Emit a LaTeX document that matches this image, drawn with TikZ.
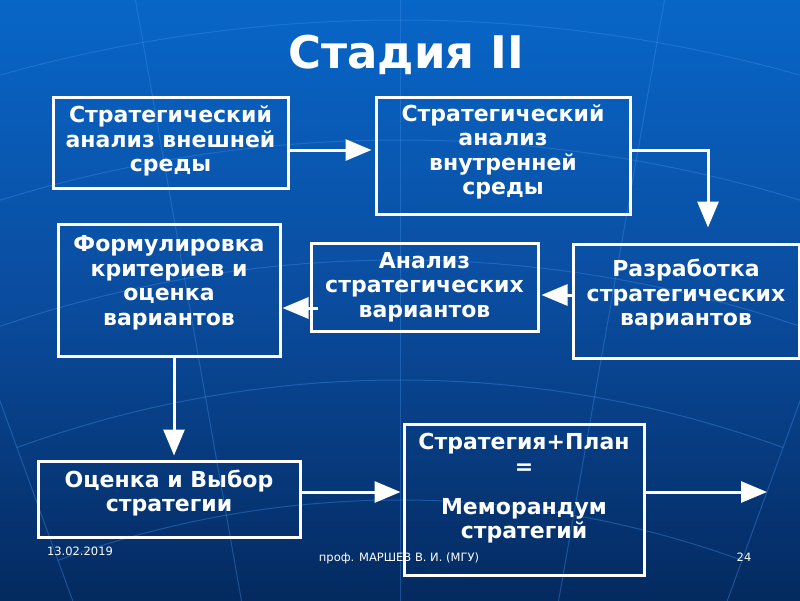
\documentclass[tikz,border=0pt]{standalone}
\usepackage{fontspec}
\setmainfont{DejaVu Sans}
\usetikzlibrary{arrows.meta}
\definecolor{bgtop}{HTML}{0866C8}
\definecolor{bgmid}{HTML}{0A4C9E}
\definecolor{bgbot}{HTML}{042A60}
\definecolor{gridc}{HTML}{3C8CE6}
\tikzset{
  box/.style={draw=white, line width=3pt, inner sep=0pt},
  txt/.style={text=white, font=\bfseries\fontsize{22}{24.5}\selectfont, align=center, inner sep=0pt},
  foot/.style={text=white, font=\fontsize{11.5}{13}\selectfont, inner sep=0pt},
  conn/.style={draw=white, line width=3pt, -{Triangle[length=26pt,width=21pt,fill=white]}},
  gridline/.style={draw=gridc, line width=1pt, opacity=0.4}
}
\begin{document}
\begin{tikzpicture}[x=1pt,y=-1pt]
\useasboundingbox (0,0) rectangle (800,600);
\shade[top color=bgtop, bottom color=bgbot, middle color=bgmid] (0,0) rectangle (800,600);
% globe grid
\begin{scope}
\clip (0,0) rectangle (800,600);
\foreach \a in {-60,-50,...,60} {
  \draw[gridline] (400,1500) -- ++({90+\a}:-1700);
}
\foreach \r in {1000,1120,1240,1360,1480} {
  \draw[gridline] (400,1500) ++(110:-\r) arc[start angle=110, end angle=70, radius=-\r];
}
\end{scope}
% title
\node[text=white, font=\bfseries\fontsize{45}{48}\selectfont, inner sep=0pt] (title) at (406,55) {Стадия II};
% boxes
\node[box, minimum width=235pt, minimum height=91pt] (b1) at (170.5,142.5) {};
\node[box, minimum width=254pt, minimum height=117pt] (b2) at (503,155.5) {};
\node[box, minimum width=222pt, minimum height=132pt] (b3) at (169,290) {};
\node[box, minimum width=227pt, minimum height=88pt] (b4) at (424.5,287) {};
\node[box, minimum width=226pt, minimum height=114pt] (b5) at (686,301) {};
\node[box, minimum width=262pt, minimum height=76pt] (b6) at (169,499) {};
\node[box, minimum width=240pt, minimum height=151pt] (b7) at (524,499.5) {};
% texts
\node[txt] (t1) at (170.5,141) {Стратегический\\анализ внешней\\среды};
\node[txt] (t2) at (503,152) {Стратегический\\анализ\\внутренней\\среды};
\node[txt] (t3) at (169,283) {Формулировка\\критериев и\\оценка\\вариантов};
\node[txt] (t4) at (424.5,287) {Анализ\\стратегических\\вариантов};
\node[txt] (t5) at (686,295) {Разработка\\стратегических\\вариантов};
\node[txt] (t6) at (169,493) {Оценка и Выбор\\стратегии};
\node[txt, anchor=north] (t7) at (524,433) {Стратегия+План\\=\\[15.5pt]Меморандум\\стратегий};
% connectors
\coordinate (c1) at (708,150);
\coordinate (c2) at (318,308);
\coordinate (c3) at (174,356);
\coordinate (c4) at (300,492);
\coordinate (c5) at (767,492);
\draw[conn, shorten >=3pt] (b1.east|-c1) -- (b2.west|-c1);
\draw[conn, shorten >=15pt] (b2.east|-c1) -| (b5.north-|c1);
\draw[conn, shorten >=2pt] (b5.west|-0,295) -- (b4.east|-0,295);
\draw[conn, shorten >=1pt] (c2) -- (b3.east|-c2);
\draw[conn, shorten >=4pt] (c3) -- (b6.north-|c3);
\draw[conn, shorten >=2pt] (c4) -- (b7.west|-c4);
\draw[conn] (b7.east|-c5) -- (c5);
% footer
\node[foot] (f1) at (80,551) {13.02.2019};
\node[foot] (f2) at (399,558) {проф. МАРШЕВ В. И. (МГУ)};
\node[foot] (f3) at (744,557) {24};
% redraw b7 border over footer
\node[box, minimum width=240pt, minimum height=151pt] (b7b) at (524,499.5) {};
\end{tikzpicture}
\end{document}
